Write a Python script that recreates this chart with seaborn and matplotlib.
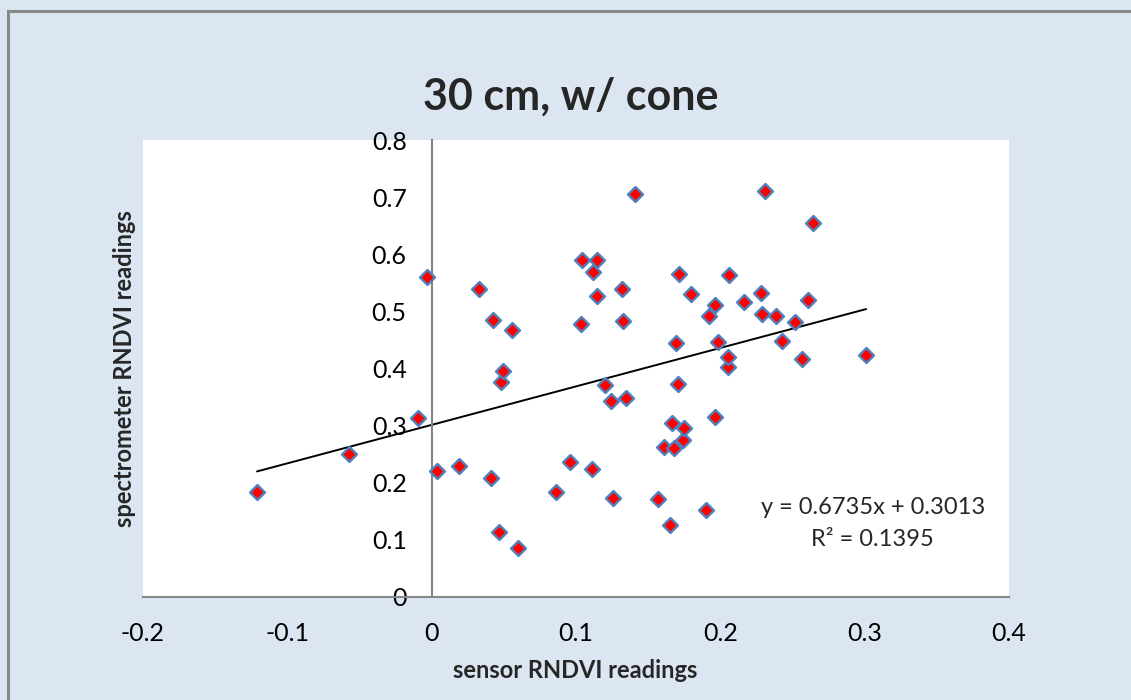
import matplotlib
matplotlib.use("Agg")
import matplotlib.pyplot as plt
import seaborn as sns
import pandas as pd
import numpy as np
from matplotlib.patches import Rectangle

sensor = [-0.121, -0.057, -0.0095, -0.003, 0.004, 0.019, 0.033, 0.041, 0.0425, 0.0466,
          0.0478, 0.0494, 0.056, 0.060, 0.086, 0.0956, 0.1033, 0.104, 0.1109, 0.1118,
          0.1146, 0.1146, 0.1201, 0.124, 0.1257, 0.1317, 0.1324, 0.1349, 0.1407, 0.1571,
          0.1608, 0.1653, 0.1667, 0.1677, 0.1695, 0.1707, 0.1712, 0.1740, 0.1747, 0.1799,
          0.1903, 0.1921, 0.1965, 0.1965, 0.1986, 0.2051, 0.2055, 0.2058, 0.2162, 0.2282,
          0.2287, 0.2310, 0.2386, 0.2430, 0.2518, 0.2566, 0.2606, 0.2645, 0.3010]
spectrometer = [0.184, 0.250, 0.313, 0.560, 0.220, 0.229, 0.540, 0.208, 0.485, 0.114,
                0.376, 0.396, 0.467, 0.085, 0.183, 0.236, 0.478, 0.590, 0.224, 0.569,
                0.590, 0.527, 0.371, 0.3425, 0.173, 0.540, 0.483, 0.348, 0.705, 0.171,
                0.2625, 0.126, 0.3045, 0.260, 0.445, 0.373, 0.566, 0.275, 0.296, 0.531,
                0.152, 0.492, 0.511, 0.3145, 0.446, 0.402, 0.421, 0.563, 0.517, 0.533,
                0.495, 0.711, 0.492, 0.448, 0.481, 0.416, 0.520, 0.654, 0.4235]
slope = 0.6735
intercept = 0.3013
r_squared = 0.1395
x_ticks = [-0.2, -0.1, 0, 0.1, 0.2, 0.3, 0.4]
x_tick_labels = ["-0.2", "-0.1", "0", "0.1", "0.2", "0.3", "0.4"]
y_ticks = [0, 0.1, 0.2, 0.3, 0.4, 0.5, 0.6, 0.7, 0.8]
y_tick_labels = ["0", "0.1", "0.2", "0.3", "0.4", "0.5", "0.6", "0.7", "0.8"]

sns.set_style("white")
plt.rcParams['font.family'] = ['Lato', 'DejaVu Sans']

BG = "#DCE6F2"
AXIS = "#868686"

fig = plt.figure(figsize=(11.31, 7.0), dpi=100)
fig.patch.set_facecolor(BG)
# outer chart border (top/left visible)
fig.patches.append(Rectangle((7.5 / 1131, -0.1), 1.2, (700 - 10.5) / 700 + 0.1,
                             transform=fig.transFigure, fill=False,
                             edgecolor="#878787", linewidth=2.2, zorder=0))

ax = fig.add_axes([143 / 1131, 1 - 597 / 700, (1009 - 143) / 1131, (597 - 140) / 700])
ax.set_facecolor("white")

df = pd.DataFrame({"sensor": sensor, "spectrometer": spectrometer})
sns.scatterplot(data=df, x="sensor", y="spectrometer", ax=ax, marker="D",
                s=58, color="#FF0000", edgecolor="#4F81BD", linewidth=1.7, zorder=3)

xl = np.array([min(sensor), max(sensor)])
ax.plot(xl, slope * xl + intercept, color="black", linewidth=1.4, zorder=2)

ax.set_xlim(-0.2, 0.4)
ax.set_ylim(0, 0.8)
ax.set_xticks(x_ticks)
ax.set_xticklabels(x_tick_labels)
ax.set_yticks(y_ticks)
ax.set_yticklabels(y_tick_labels)

for s in ["top", "right"]:
    ax.spines[s].set_visible(False)
ax.spines["left"].set_position(("data", 0))
ax.spines["left"].set_color(AXIS)
ax.spines["left"].set_linewidth(1.5)
ax.spines["bottom"].set_color(AXIS)
ax.spines["bottom"].set_linewidth(1.5)

ax.tick_params(axis="both", which="major", direction="out", length=6, width=1.5,
               color=AXIS, labelsize=18, labelcolor="black")
ax.tick_params(axis="y", pad=12)
ax.tick_params(axis="x", pad=12)
ax.grid(False)

ax.set_xlabel("")
ax.set_ylabel("")
fig.text(575 / 1131, 1 - 670 / 700, "sensor RNDVI readings", ha="center", va="center",
         fontsize=17, fontweight="bold")
fig.text(125 / 1131, 1 - 369 / 700, "spectrometer RNDVI readings", ha="center", va="center",
         rotation=90, fontsize=17, fontweight="bold")
fig.text(571 / 1131, 1 - 97 / 700, "30 cm, w/ cone", ha="center", va="center",
         fontsize=31, fontweight="bold")

ax.text(0.3056, 0.156, f"y = {slope}x + {intercept}", ha="center", va="center", fontsize=17)
ax.text(0.3056, 0.0998, f"R² = {r_squared}", ha="center", va="center", fontsize=17)

fig.savefig("out.png", dpi=100, facecolor=BG)
